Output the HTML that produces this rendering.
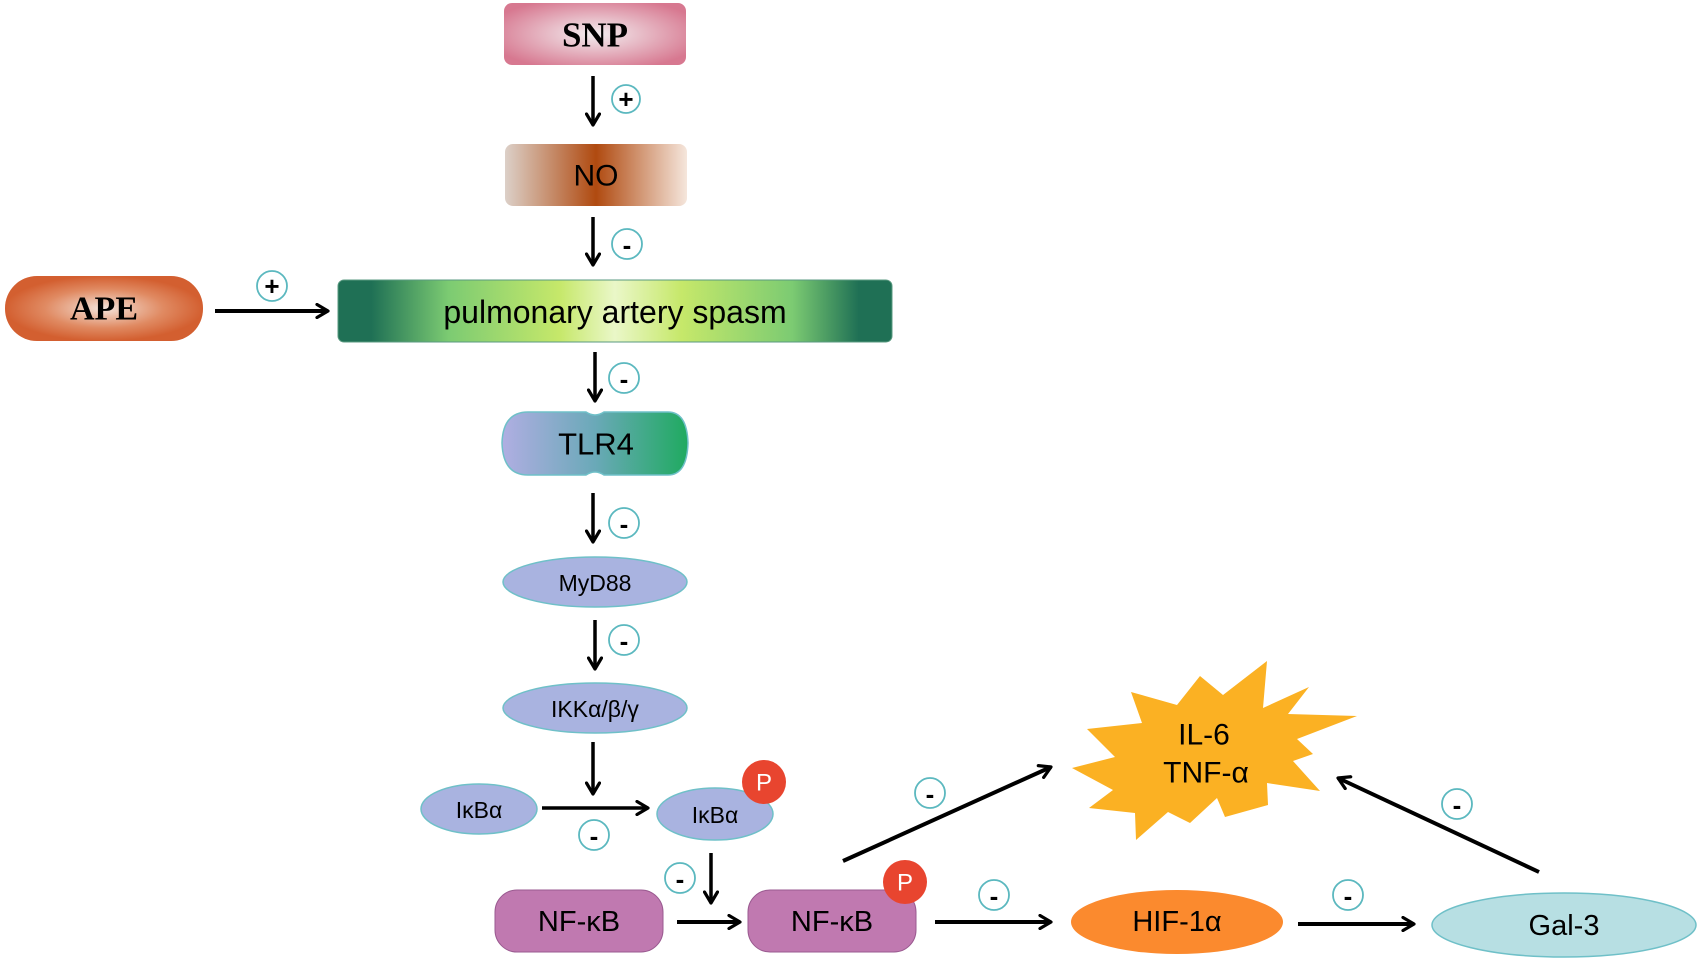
<!DOCTYPE html>
<html><head><meta charset="utf-8"><style>
html,body{margin:0;padding:0;background:#fff}
svg{display:block}
text{font-family:"Liberation Sans",sans-serif;text-anchor:middle;dominant-baseline:central}
</style></head><body>
<svg width="1699" height="961" viewBox="0 0 1699 961" xmlns="http://www.w3.org/2000/svg">
<defs>
<marker id="ah" viewBox="0 0 16 16" refX="13" refY="8" markerWidth="16" markerHeight="16" markerUnits="userSpaceOnUse" orient="auto">
<path d="M2,1.5 L13,8 L2,14.5" fill="none" stroke="#000" stroke-width="3.2" stroke-linecap="round" stroke-linejoin="round"/>
</marker>
<radialGradient id="gSNP" cx="0.5" cy="0.5" r="0.6"><stop offset="0" stop-color="#f3eef0"/><stop offset="1" stop-color="#d77890"/></radialGradient>
<linearGradient id="gNO" x1="0" x2="1"><stop offset="0" stop-color="#dcd0c8"/><stop offset="0.5" stop-color="#b04a10"/><stop offset="1" stop-color="#f5e6dc"/></linearGradient>
<radialGradient id="gAPE" cx="0.5" cy="0.5" r="0.5"><stop offset="0" stop-color="#f4e3da"/><stop offset="0.6" stop-color="#e08a62"/><stop offset="1" stop-color="#d35f30"/></radialGradient>
<linearGradient id="gPAS" x1="0" x2="1"><stop offset="0" stop-color="#1f7055"/><stop offset="0.06" stop-color="#1f7055"/><stop offset="0.2" stop-color="#7ccb72"/><stop offset="0.4" stop-color="#c6e86a"/><stop offset="0.5" stop-color="#eaf7c8"/><stop offset="0.62" stop-color="#c6e86a"/><stop offset="0.82" stop-color="#7ccb72"/><stop offset="0.94" stop-color="#1f7055"/><stop offset="1" stop-color="#1f7055"/></linearGradient>
<linearGradient id="gTLR" x1="0" x2="1"><stop offset="0" stop-color="#b0aee2"/><stop offset="0.5" stop-color="#6aa9b8"/><stop offset="1" stop-color="#1faa60"/></linearGradient>
</defs>

<!-- SNP -->
<rect x="504" y="3" width="182" height="62" rx="8" fill="url(#gSNP)"/>
<text x="595" y="35" font-weight="bold" font-size="35" style="font-family:'Liberation Serif',serif">SNP</text>
<line x1="593" y1="76" x2="593" y2="125" stroke="#000" stroke-width="3.5" marker-end="url(#ah)"/>
<circle cx="626" cy="99" r="14" fill="#fff" stroke="#5bb8bf" stroke-width="1.8"/><text x="626" y="99" font-size="26" font-weight="bold">+</text>

<!-- NO -->
<rect x="505" y="144" width="182" height="62" rx="8" fill="url(#gNO)"/>
<text x="596" y="176" font-size="30">NO</text>
<line x1="593" y1="217" x2="593" y2="265" stroke="#000" stroke-width="3.5" marker-end="url(#ah)"/>
<circle cx="627" cy="244" r="15" fill="#fff" stroke="#5bb8bf" stroke-width="1.8"/><text x="627" y="245" font-size="26" font-weight="bold">-</text>

<!-- APE -->
<rect x="5" y="276" width="198" height="65" rx="32" fill="url(#gAPE)"/>
<text x="104" y="309" font-weight="bold" font-size="34" style="font-family:'Liberation Serif',serif">APE</text>
<line x1="215" y1="311" x2="328" y2="311" stroke="#000" stroke-width="4" marker-end="url(#ah)"/>
<circle cx="272" cy="286" r="15" fill="#fff" stroke="#5bb8bf" stroke-width="1.8"/><text x="272" y="286" font-size="26" font-weight="bold">+</text>

<!-- PAS -->
<rect x="338" y="280" width="554" height="62" rx="6" fill="url(#gPAS)" stroke="#5a9a80" stroke-width="1"/>
<text x="615" y="312" font-size="32">pulmonary artery spasm</text>
<line x1="595" y1="352" x2="595" y2="401" stroke="#000" stroke-width="3.5" marker-end="url(#ah)"/>
<circle cx="624" cy="378" r="15" fill="#fff" stroke="#5bb8bf" stroke-width="1.8"/><text x="624" y="379" font-size="26" font-weight="bold">-</text>

<!-- TLR4 -->
<path d="M528,412 L586,412 Q595,418 604,412 L668,412 Q687,412 688,443 Q687,475 668,475 L604,475 Q595,469 586,475 L528,475 Q503,475 502,443 Q503,412 528,412 Z" fill="url(#gTLR)" stroke="#6fc0c8" stroke-width="1.5"/>
<text x="596" y="444" font-size="31">TLR4</text>
<line x1="593" y1="493" x2="593" y2="542" stroke="#000" stroke-width="3.5" marker-end="url(#ah)"/>
<circle cx="624" cy="523" r="15" fill="#fff" stroke="#5bb8bf" stroke-width="1.8"/><text x="624" y="524" font-size="26" font-weight="bold">-</text>

<!-- MyD88 -->
<ellipse cx="595" cy="582" rx="92" ry="25" fill="#a9b3e0" stroke="#6fc0c8" stroke-width="1.5"/>
<text x="595" y="583" font-size="23">MyD88</text>
<line x1="595" y1="620" x2="595" y2="669" stroke="#000" stroke-width="3.5" marker-end="url(#ah)"/>
<circle cx="624" cy="640" r="15" fill="#fff" stroke="#5bb8bf" stroke-width="1.8"/><text x="624" y="641" font-size="26" font-weight="bold">-</text>

<!-- IKK -->
<ellipse cx="595" cy="708" rx="92" ry="25" fill="#a9b3e0" stroke="#6fc0c8" stroke-width="1.5"/>
<text x="595" y="709" font-size="23">IKKα/β/γ</text>
<line x1="593" y1="742" x2="593" y2="794" stroke="#000" stroke-width="3.5" marker-end="url(#ah)"/>

<!-- IkBa -->
<ellipse cx="479" cy="809" rx="58" ry="25" fill="#a9b3e0" stroke="#6fc0c8" stroke-width="1.5"/>
<text x="479" y="810" font-size="23">IκBα</text>
<line x1="542" y1="808" x2="648" y2="808" stroke="#000" stroke-width="3.5" marker-end="url(#ah)"/>
<circle cx="594" cy="835" r="15" fill="#fff" stroke="#5bb8bf" stroke-width="1.8"/><text x="594" y="836" font-size="26" font-weight="bold">-</text>
<ellipse cx="715" cy="814" rx="58" ry="26" fill="#a9b3e0" stroke="#6fc0c8" stroke-width="1.5"/>
<text x="715" y="815" font-size="23">IκBα</text>
<circle cx="764" cy="782" r="22" fill="#e8452f"/><text x="764" y="783" font-size="24" fill="#fff">P</text>
<line x1="711" y1="853" x2="711" y2="903" stroke="#000" stroke-width="3.5" marker-end="url(#ah)"/>
<circle cx="680" cy="878" r="15" fill="#fff" stroke="#5bb8bf" stroke-width="1.8"/><text x="680" y="879" font-size="26" font-weight="bold">-</text>

<!-- NF-kB -->
<rect x="495" y="890" width="168" height="62" rx="22" fill="#c079b0" stroke="#9a5a90" stroke-width="1"/>
<text x="579" y="922" font-size="29">NF-κB</text>
<line x1="677" y1="922" x2="740" y2="922" stroke="#000" stroke-width="4" marker-end="url(#ah)"/>
<rect x="748" y="890" width="168" height="62" rx="22" fill="#c079b0" stroke="#9a5a90" stroke-width="1"/>
<text x="832" y="922" font-size="29">NF-κB</text>
<circle cx="905" cy="882" r="22" fill="#e8452f"/><text x="905" y="883" font-size="24" fill="#fff">P</text>
<line x1="935" y1="922" x2="1051" y2="922" stroke="#000" stroke-width="4" marker-end="url(#ah)"/>
<circle cx="994" cy="895" r="15" fill="#fff" stroke="#5bb8bf" stroke-width="1.8"/><text x="994" y="896" font-size="26" font-weight="bold">-</text>
<line x1="843" y1="861" x2="1051" y2="767" stroke="#000" stroke-width="4" marker-end="url(#ah)"/>
<circle cx="930" cy="793" r="15" fill="#fff" stroke="#5bb8bf" stroke-width="1.8"/><text x="930" y="794" font-size="26" font-weight="bold">-</text>

<!-- HIF -->
<ellipse cx="1177" cy="922" rx="106" ry="32" fill="#fb8a2e"/>
<text x="1177" y="922" font-size="29">HIF-1α</text>
<line x1="1298" y1="924" x2="1414" y2="924" stroke="#000" stroke-width="4" marker-end="url(#ah)"/>
<circle cx="1348" cy="895" r="15" fill="#fff" stroke="#5bb8bf" stroke-width="1.8"/><text x="1348" y="896" font-size="26" font-weight="bold">-</text>

<!-- Gal-3 -->
<ellipse cx="1564" cy="925" rx="132" ry="32" fill="#b7dfe3" stroke="#6fc0c8" stroke-width="1.5"/>
<text x="1564" y="926" font-size="29">Gal-3</text>
<line x1="1539" y1="872" x2="1338" y2="778" stroke="#000" stroke-width="4" marker-end="url(#ah)"/>
<circle cx="1457" cy="804" r="15" fill="#fff" stroke="#5bb8bf" stroke-width="1.8"/><text x="1457" y="805" font-size="26" font-weight="bold">-</text>

<!-- star -->
<polygon points="1072,768 1115,757 1087,729 1142,723 1131,692 1177,705 1200,676 1223,695 1267,661 1263,708 1309,687 1288,714 1357,716 1297,739 1313,754 1293,761 1320,791 1267,783 1268,805 1225,817 1217,798 1190,823 1168,812 1136,840 1135,813 1089,808 1113,790" fill="#fbb123"/>
<text x="1204" y="735" font-size="30">IL-6</text>
<text x="1206" y="773" font-size="30">TNF-α</text>
</svg>
</body></html>
